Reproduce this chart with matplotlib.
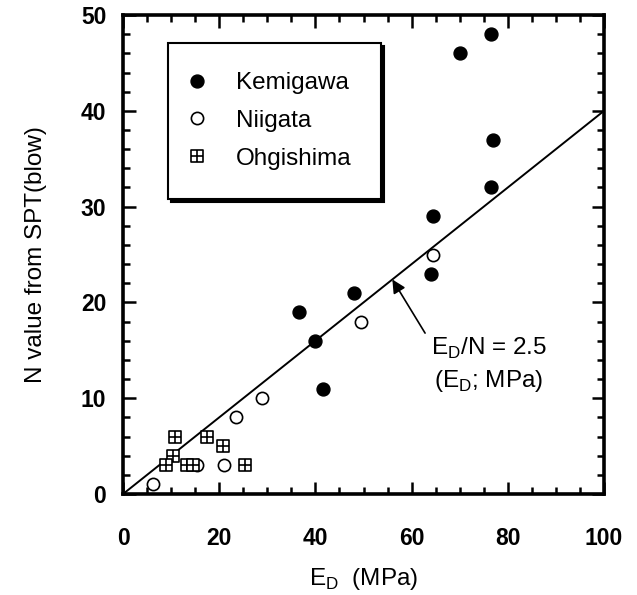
import numpy as np
import matplotlib
matplotlib.use("Agg")
import matplotlib.pyplot as plt
from matplotlib.path import Path
from matplotlib.ticker import MultipleLocator

plt.rcParams['font.family'] = ['Liberation Sans', 'DejaVu Sans']

# data (E_D in MPa, N in blows)
kemi_ed = [76.5, 70, 77, 76.5, 64.5, 64, 48, 36.5, 40, 41.5]
kemi_n = [48, 46, 37, 32, 29, 23, 21, 19, 16, 11]
niig_ed = [64.5, 49.5, 29, 23.5, 21, 15.4, 6.2]
niig_n = [25, 18, 10, 8, 3, 3, 1]
ohgi_ed = [10.8, 17.5, 20.8, 10.4, 8.9, 13.3, 14.6, 25.4]
ohgi_n = [6, 6, 5, 4, 3, 3, 3, 3]
ratio = 2.5
line_ed = np.array([0, 100])

# square with a cross inside
sq_verts = [(-1, -1), (1, -1), (1, 1), (-1, 1), (-1, -1),
            (0, -1), (0, 1), (-1, 0), (1, 0)]
sq_codes = [Path.MOVETO, Path.LINETO, Path.LINETO, Path.LINETO, Path.CLOSEPOLY,
            Path.MOVETO, Path.LINETO, Path.MOVETO, Path.LINETO]
sq_marker = Path(sq_verts, sq_codes)

fig = plt.figure(figsize=(6.37, 5.95), dpi=100)
ax = fig.add_axes([0.1931, 0.1697, 0.7551, 0.805])

ax.plot(line_ed, line_ed / ratio, color='k', lw=1.4, zorder=2)

ax.plot(kemi_ed, kemi_n, ls='none', marker='o', ms=9.3, mfc='k', mec='k',
        label='Kemigawa', zorder=3)
ax.plot(niig_ed, niig_n, ls='none', marker='o', ms=8.8, mfc='white', mec='k',
        mew=1.2, label='Niigata', zorder=3)
ax.plot(ohgi_ed, ohgi_n, ls='none', marker=sq_marker, ms=8.6, mfc='white',
        mec='k', mew=1.2, label='Ohgishima', zorder=4)

ax.annotate('', xy=(56, 22.4), xytext=(62.8, 16.8),
            arrowprops=dict(arrowstyle='-|>', color='k', lw=1.2,
                            mutation_scale=20, shrinkA=0, shrinkB=0))
ax.text(76, 14.5, r'E$_{\mathregular{D}}$/N = 2.5', ha='center', va='baseline',
        fontsize=17.5)
ax.text(76, 11.2, r'(E$_{\mathregular{D}}$; MPa)', ha='center', va='baseline',
        fontsize=17.5)

ax.set_xlim(0, 100)
ax.set_ylim(0, 50)
ax.xaxis.set_major_locator(MultipleLocator(20))
ax.xaxis.set_minor_locator(MultipleLocator(5))
ax.yaxis.set_major_locator(MultipleLocator(10))
ax.yaxis.set_minor_locator(MultipleLocator(2))
ax.tick_params(which='both', direction='in', top=True, right=True, width=1.8)
ax.tick_params(which='major', length=9)
ax.tick_params(which='minor', length=5)
ax.tick_params(axis='x', pad=24)
ax.tick_params(axis='y', pad=12)
for lab in ax.get_xticklabels() + ax.get_yticklabels():
    lab.set_fontsize(16.5)
    lab.set_fontweight('bold')
for sp in ax.spines.values():
    sp.set_linewidth(2.6)

ax.set_xlabel(r'E$_{\mathregular{D}}$  (MPa)', fontsize=17.5)
ax.set_ylabel('N value from SPT(blow)', fontsize=17.5)
ax.xaxis.set_label_coords(0.5, -0.15)
ax.yaxis.set_label_coords(-0.157, 0.5)

leg = ax.legend(loc='upper left', bbox_to_anchor=(0.094, 0.942), fontsize=17.5,
                frameon=True, fancybox=False, shadow={'color': 'k', 'alpha': 1},
                borderpad=1.2, handlelength=0, handletextpad=1.6,
                labelspacing=0.65, borderaxespad=0)
leg.get_frame().set_edgecolor('k')
leg.get_frame().set_linewidth(1.5)

fig.savefig('out.png', dpi=100)
